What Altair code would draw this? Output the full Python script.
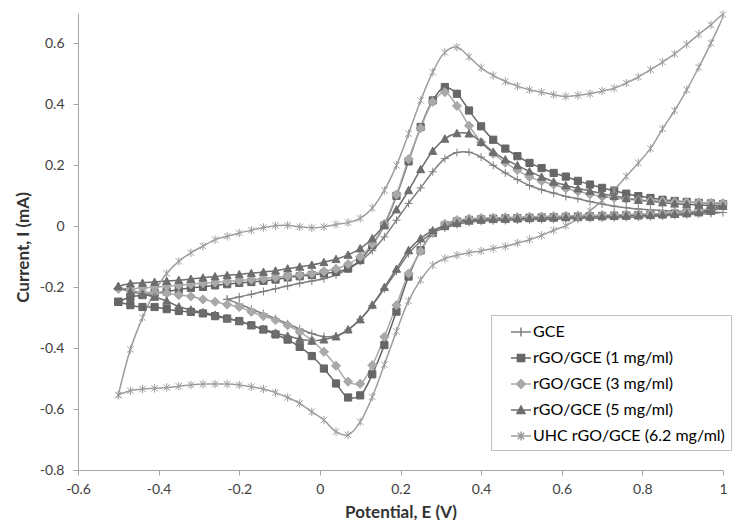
import altair as alt
import pandas as pd

# ---------------- data ----------------
SERIES = ["GCE", "rGO/GCE (1 mg/ml)", "rGO/GCE (3 mg/ml)", "rGO/GCE (5 mg/ml)",
          "UHC rGO/GCE (6.2 mg/ml)"]
COLORS = ["#7f7f7f", "#666666", "#a9a9a9", "#6e6e6e", "#9d9d9d"]

POTENTIAL = [-0.50, -0.47, -0.44, -0.41, -0.38, -0.35, -0.32, -0.29, -0.26, -0.23,
             -0.20, -0.17, -0.14, -0.11, -0.08, -0.05, -0.02, 0.01, 0.04, 0.07,
             0.10, 0.13, 0.16, 0.19, 0.22, 0.25, 0.28, 0.31, 0.34, 0.37,
             0.40, 0.43, 0.46, 0.49, 0.52, 0.55, 0.58, 0.61, 0.64, 0.67,
             0.70, 0.73, 0.76, 0.79, 0.82, 0.85, 0.88, 0.91, 0.94, 0.97,
             1.00]
GCE_POTENTIAL = POTENTIAL[9:]

# anodic (upper) branch, values listed in ascending potential
GCE_UP = [-0.240, -0.232, -0.223, -0.214, -0.205, -0.196, -0.187, -0.180, -0.172, -0.160,
          -0.140, -0.115, -0.080, -0.035, 0.020, 0.075, 0.126, 0.179, 0.222, 0.242,
          0.243, 0.227, 0.200, 0.175, 0.153, 0.134, 0.120, 0.109, 0.098, 0.090,
          0.081, 0.073, 0.066, 0.061, 0.057, 0.054, 0.052, 0.050, 0.049, 0.047,
          0.046, 0.045]
# cathodic (lower) branch, values listed in ascending potential
GCE_LO = [-0.240, -0.255, -0.272, -0.287, -0.303, -0.320, -0.337, -0.352, -0.362, -0.360,
          -0.340, -0.305, -0.260, -0.205, -0.148, -0.090, -0.050, -0.022, -0.006, 0.006,
          0.013, 0.016, 0.018, 0.019, 0.020, 0.021, 0.022, 0.023, 0.024, 0.025,
          0.026, 0.027, 0.028, 0.029, 0.030, 0.032, 0.034, 0.036, 0.038, 0.040,
          0.042, 0.045]

R1_UP = [-0.248, -0.232, -0.226, -0.219, -0.214, -0.208, -0.202, -0.199, -0.194, -0.190,
         -0.186, -0.183, -0.179, -0.175, -0.168, -0.164, -0.160, -0.155, -0.150, -0.139,
         -0.111, -0.062, 0.003, 0.100, 0.213, 0.326, 0.413, 0.457, 0.435, 0.380,
         0.328, 0.284, 0.255, 0.230, 0.208, 0.191, 0.175, 0.163, 0.149, 0.137,
         0.126, 0.117, 0.107, 0.099, 0.093, 0.087, 0.083, 0.080, 0.077, 0.075,
         0.073]
R1_LO = [-0.248, -0.259, -0.265, -0.265, -0.272, -0.278, -0.281, -0.286, -0.295, -0.303,
         -0.311, -0.325, -0.339, -0.355, -0.372, -0.396, -0.426, -0.467, -0.516, -0.562,
         -0.555, -0.486, -0.390, -0.280, -0.165, -0.079, -0.022, 0.003, 0.016, 0.021,
         0.023, 0.025, 0.026, 0.027, 0.028, 0.029, 0.030, 0.031, 0.032, 0.033,
         0.034, 0.035, 0.036, 0.037, 0.038, 0.040, 0.042, 0.045, 0.048, 0.055,
         0.073]

R3_UP = [-0.205, -0.205, -0.203, -0.200, -0.197, -0.194, -0.190, -0.187, -0.184, -0.181,
         -0.178, -0.175, -0.172, -0.168, -0.164, -0.160, -0.155, -0.148, -0.140, -0.124,
         -0.100, -0.058, 0.008, 0.104, 0.220, 0.322, 0.408, 0.440, 0.395, 0.330,
         0.276, 0.238, 0.209, 0.184, 0.162, 0.148, 0.137, 0.124, 0.115, 0.105,
         0.098, 0.093, 0.089, 0.086, 0.084, 0.082, 0.080, 0.079, 0.078, 0.077,
         0.076]
R3_LO = [-0.205, -0.212, -0.216, -0.219, -0.220, -0.226, -0.230, -0.240, -0.248, -0.257,
         -0.265, -0.281, -0.295, -0.308, -0.325, -0.347, -0.375, -0.412, -0.458, -0.510,
         -0.517, -0.456, -0.363, -0.259, -0.155, -0.082, -0.022, 0.008, 0.020, 0.025,
         0.027, 0.028, 0.029, 0.030, 0.031, 0.032, 0.033, 0.034, 0.035, 0.036,
         0.037, 0.038, 0.039, 0.040, 0.041, 0.043, 0.045, 0.048, 0.052, 0.060,
         0.076]

R5_UP = [-0.197, -0.188, -0.186, -0.183, -0.180, -0.177, -0.173, -0.169, -0.165, -0.161,
         -0.158, -0.154, -0.150, -0.146, -0.139, -0.133, -0.127, -0.118, -0.108, -0.094,
         -0.073, -0.040, 0.004, 0.055, 0.118, 0.187, 0.247, 0.287, 0.305, 0.304,
         0.276, 0.244, 0.219, 0.200, 0.180, 0.162, 0.146, 0.134, 0.124, 0.116,
         0.107, 0.099, 0.092, 0.086, 0.082, 0.078, 0.074, 0.072, 0.070, 0.068,
         0.066]
R5_LO = [-0.197, -0.215, -0.222, -0.232, -0.245, -0.264, -0.274, -0.283, -0.291, -0.302,
         -0.312, -0.325, -0.337, -0.350, -0.360, -0.370, -0.376, -0.372, -0.362, -0.339,
         -0.306, -0.258, -0.200, -0.140, -0.079, -0.040, -0.014, 0.000, 0.010, 0.018,
         0.021, 0.023, 0.024, 0.025, 0.026, 0.027, 0.028, 0.029, 0.030, 0.031,
         0.032, 0.033, 0.034, 0.035, 0.036, 0.038, 0.040, 0.042, 0.045, 0.050,
         0.066]

UHC_UP = [-0.554, -0.404, -0.300, -0.215, -0.155, -0.115, -0.087, -0.065, -0.044, -0.033,
          -0.022, -0.013, -0.004, 0.002, 0.003, -0.002, -0.005, -0.002, 0.006, 0.012,
          0.026, 0.060, 0.118, 0.200, 0.304, 0.413, 0.506, 0.571, 0.588, 0.556,
          0.520, 0.495, 0.475, 0.460, 0.448, 0.440, 0.432, 0.426, 0.430, 0.435,
          0.444, 0.453, 0.470, 0.490, 0.514, 0.539, 0.566, 0.597, 0.630, 0.661,
          0.695]
UHC_LO = [-0.554, -0.540, -0.534, -0.532, -0.529, -0.525, -0.521, -0.518, -0.518, -0.518,
          -0.521, -0.527, -0.534, -0.546, -0.562, -0.581, -0.609, -0.636, -0.674, -0.685,
          -0.642, -0.560, -0.454, -0.345, -0.245, -0.176, -0.128, -0.106, -0.095, -0.087,
          -0.081, -0.073, -0.066, -0.055, -0.044, -0.030, -0.013, 0.002, 0.025, 0.051,
          0.084, 0.119, 0.164, 0.208, 0.255, 0.320, 0.380, 0.448, 0.522, 0.601,
          0.695]

X_TICKS = [-0.6, -0.4, -0.2, 0, 0.2, 0.4, 0.6, 0.8, 1.0]
Y_TICKS = [-0.8, -0.6, -0.4, -0.2, 0, 0.2, 0.4, 0.6]

# marker shapes (chart) and legend symbols (line + marker)
POINT_SHAPES = [
    "M-1,0H1M0,-1V1",
    "M-0.9,-0.9H0.9V0.9H-0.9Z",
    "M-1.15,0L0,-1.15L1.15,0L0,1.15Z",
    "M-1,0.85L0,-1L1,0.85Z",
    "M-0.8,-0.8L0.8,0.8M-0.8,0.8L0.8,-0.8M0,-1.05V1.05",
]
LEGEND_SHAPES = [
    "M-1,0H1M0,-0.45V0.45",
    "M-1,0H1M-0.36,-0.36H0.36V0.36H-0.36Z",
    "M-1,0H1M-0.45,0L0,-0.45L0.45,0L0,0.45Z",
    "M-1,0H1M-0.4,0.34L0,-0.4L0.4,0.34Z",
    "M-1,0H1M-0.33,-0.33L0.33,0.33M-0.33,0.33L0.33,-0.33M0,-0.45V0.45",
]

# ---------------- build table ----------------
rows = []


def add_cycle(name, pot, up, lo):
    if not (len(pot) == len(up) == len(lo)):
        raise ValueError(f"length mismatch for {name}: {len(pot)} {len(up)} {len(lo)}")
    seq = list(zip(pot, up)) + list(zip(pot[::-1], lo[::-1]))[1:]
    for k, (e, i) in enumerate(seq):
        rows.append({"series": name, "E": e, "I": i, "k": k})


add_cycle(SERIES[0], GCE_POTENTIAL, GCE_UP, GCE_LO)
add_cycle(SERIES[1], POTENTIAL, R1_UP, R1_LO)
add_cycle(SERIES[2], POTENTIAL, R3_UP, R3_LO)
add_cycle(SERIES[3], POTENTIAL, R5_UP, R5_LO)
add_cycle(SERIES[4], POTENTIAL, UHC_UP, UHC_LO)
df = pd.DataFrame(rows)

FONT = "Lato"

X = alt.X("E:Q",
          scale=alt.Scale(domain=[-0.6, 1.0], nice=False, zero=False),
          axis=alt.Axis(values=X_TICKS, title="Potential, E (V)", grid=False,
                        labelExpr="toString(round(datum.value*10)/10)",
                        labelFlush=False, labelOverlap=False,
                        tickSize=5, labelPadding=7,
                        titleY=42, titleBaseline="middle"))
Y = alt.Y("I:Q",
          scale=alt.Scale(domain=[-0.8, 0.7], nice=False, zero=False),
          axis=alt.Axis(values=Y_TICKS, title="Current, I (mA)", grid=False,
                        labelExpr="toString(round(datum.value*10)/10)",
                        labelFlush=False, labelOverlap=False,
                        tickSize=5, labelPadding=9,
                        titleX=-55, titleY=234, titleAngle=270,
                        titleAlign="center", titleBaseline="middle"))

lines = alt.Chart(df).mark_line(strokeWidth=1.5, interpolate="catmull-rom").encode(
    x=X, y=Y,
    color=alt.Color("series:N", scale=alt.Scale(domain=SERIES, range=COLORS), legend=None),
    detail="series:N",
    order="k:Q",
)

points = alt.Chart(df).mark_point(filled=True, size=64, strokeWidth=1, opacity=1).encode(
    x=X, y=Y,
    fill=alt.Fill("series:N", scale=alt.Scale(domain=SERIES, range=COLORS), legend=None),
    stroke=alt.Stroke("series:N", scale=alt.Scale(domain=SERIES, range=COLORS), legend=None),
    shape=alt.Shape("series:N", scale=alt.Scale(domain=SERIES, range=POINT_SHAPES), legend=None),
)

leg = alt.Legend(title=None, orient="none", legendX=413, legendY=302,
                 symbolSize=400, symbolStrokeWidth=1.5, symbolOffset=13,
                 labelFont=FONT, labelFontSize=16, labelColor="#000000",
                 labelOffset=1, labelLimit=400, rowPadding=7, padding=6,
                 strokeColor="#bfbfbf", fillColor="#ffffff")

legend_layer = alt.Chart(df).transform_filter("false").mark_point(
    filled=True, size=400, strokeWidth=1.5, opacity=1).encode(
    x=X, y=Y,
    fill=alt.Fill("series:N", scale=alt.Scale(domain=SERIES, range=COLORS), legend=leg),
    stroke=alt.Stroke("series:N", scale=alt.Scale(domain=SERIES, range=COLORS), legend=leg),
    shape=alt.Shape("series:N", scale=alt.Scale(domain=SERIES, range=LEGEND_SHAPES), legend=leg),
)

chart = alt.layer(lines, points, legend_layer).resolve_scale(
    fill="independent", stroke="independent", shape="independent"
).properties(
    width=645, height=457,
    autosize=alt.AutoSizeParams(type="none"),
    padding={"left": 70, "top": 5, "right": 19, "bottom": 50},
    background="#ffffff",
).configure_view(stroke=None).configure_axis(
    domainColor="#a6a6a6", tickColor="#a6a6a6", domainWidth=1, tickWidth=1,
    labelFont=FONT, labelFontSize=14, labelColor="#404040",
    titleFont=FONT, titleFontSize=17, titleFontWeight="bold", titleColor="#333333",
)

chart.save("out.html", embed_options={"renderer": "svg", "actions": False})
